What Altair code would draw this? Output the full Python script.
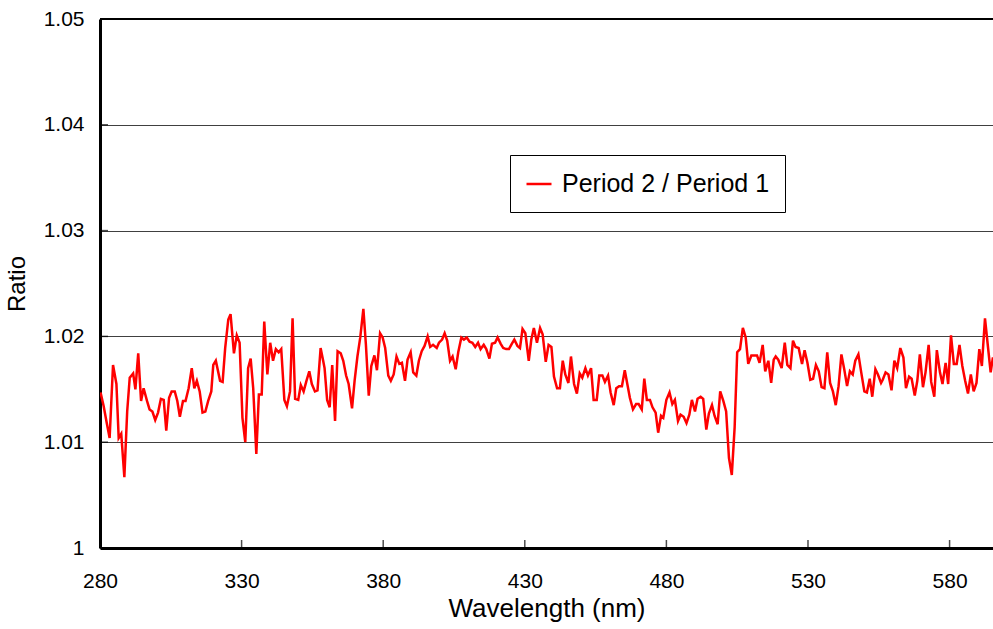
import altair as alt
import pandas as pd

wavelength = [
    280.2, 281.3, 282.4, 283.4, 284.6, 285.8, 286.6, 287.5, 288.6, 289.6, 290.5, 291.7, 292.5, 293.5, 294.5,
    295.4, 296.6, 297.5, 298.5, 299.5, 300.5, 301.5, 302.5, 303.4, 304.4, 305.3, 306.4, 307.3, 308.2, 309.3,
    310.2, 311.3, 312.4, 313.3, 314.2, 315.2, 316.2, 317.2, 318.2, 319.3,
    320.0, 320.9, 322.4, 323.3, 324.2, 325.3, 326.1, 327.3, 328.3, 329.3, 330.3, 331.3, 332.3, 333.2, 334.1,
    335.2, 336.1, 337.1, 338.0, 339.1, 340.1, 341.1, 342.1, 343.1, 344.0, 345.1, 346.0, 347.1, 348.0, 348.9,
    350.0, 350.9, 351.9, 352.9, 353.9, 354.8, 355.9, 356.8, 357.9, 358.8,
    359.3, 360.2, 361.1, 362.0, 363.0, 363.9, 365.0, 365.9, 366.9, 367.8, 369.0, 369.9, 370.9, 371.9, 373.0,
    373.9, 374.9, 375.8, 376.9, 377.8, 378.9, 379.8, 380.7, 381.8, 382.7, 383.7, 384.7, 385.7, 386.6, 387.7,
    388.6, 389.7, 390.6, 391.7, 392.6, 393.6, 394.6, 395.7, 396.6, 397.6,
    398.9, 399.7, 400.8, 401.7, 402.6, 403.6, 404.5, 405.6, 406.5, 407.6, 408.5, 409.5, 410.5, 411.5, 412.5,
    413.5, 414.4, 415.5, 416.4, 417.5, 418.4, 419.5, 420.4, 421.5, 422.4, 423.4, 424.4, 425.4, 426.3, 427.4,
    428.3, 429.2, 430.2, 431.4, 432.3, 433.2, 434.3, 435.4, 436.3, 437.4,
    438.4, 439.4, 440.3, 441.4, 442.4, 443.4, 444.3, 445.4, 446.3, 447.4, 448.4, 449.4, 450.3, 451.4, 452.3,
    453.4, 454.3, 455.4, 456.3, 457.4, 458.3, 459.4, 460.3, 461.4, 462.3, 463.3, 464.3, 465.3, 466.2, 467.1,
    468.2, 469.3, 470.2, 471.3, 472.2, 473.1, 474.2, 475.1, 476.2, 477.1, 478.1,
    478.9, 480.0, 481.1, 482.1, 483.0, 484.1, 485.0, 486.1, 487.1, 488.1, 489.0, 490.1, 491.0, 492.1, 493.0,
    494.1, 495.0, 496.1, 497.0, 498.1, 499.0, 500.1, 501.1, 502.1, 503.1, 504.1, 505.0, 506.0, 507.0, 508.0,
    508.9, 510.0, 510.9, 512.0, 512.9, 514.0, 514.9, 516.0, 517.0,
    517.9, 518.6, 519.5, 520.7, 521.8, 522.7, 523.8, 524.7, 525.6, 526.7, 527.9, 528.8, 529.8, 530.8, 531.8,
    532.8, 533.8, 534.8, 535.8, 536.8, 537.8, 538.8, 539.8, 540.8, 541.8, 542.8, 543.8, 544.8, 545.8, 546.7,
    547.8, 548.8, 549.9, 550.8, 551.8, 552.7, 553.8, 554.7, 555.8,
    556.4, 557.4, 558.4, 559.5, 560.5, 561.5, 562.6, 563.7, 564.6, 565.7, 566.6, 567.7, 568.6, 569.5, 570.6,
    571.5, 572.6, 573.5, 574.6, 575.5, 576.6, 577.5, 578.6, 579.5, 580.5, 581.5, 582.5, 583.5, 584.5, 585.5,
    586.5, 587.5, 588.5, 589.5, 590.5, 591.4, 592.5, 593.4, 594.5, 595.3, 596.3,
]

ratio = [
    1.0147, 1.0134, 1.0118, 1.0104, 1.0173, 1.0155, 1.0104, 1.0108, 1.0067, 1.0129, 1.0161, 1.0165, 1.0150, 1.0184, 1.0139,
    1.0151, 1.0139, 1.0131, 1.0129, 1.0121, 1.0128, 1.0141, 1.0140, 1.0111, 1.0142, 1.0148, 1.0148, 1.0139, 1.0124, 1.0139,
    1.0139, 1.0151, 1.0170, 1.0151, 1.0158, 1.0148, 1.0128, 1.0129, 1.0139, 1.0148,
    1.0173, 1.0177, 1.0158, 1.0157, 1.0189, 1.0216, 1.0221, 1.0184, 1.0201, 1.0194, 1.0123, 1.0100, 1.0170, 1.0179, 1.0151,
    1.0089, 1.0145, 1.0145, 1.0214, 1.0164, 1.0194, 1.0177, 1.0188, 1.0185, 1.0188, 1.0140, 1.0134, 1.0148, 1.0217, 1.0141,
    1.0140, 1.0154, 1.0148, 1.0158, 1.0167, 1.0155, 1.0148, 1.0149, 1.0189, 1.0177,
    1.0170, 1.0140, 1.0133, 1.0173, 1.0120, 1.0186, 1.0184, 1.0177, 1.0163, 1.0155, 1.0132, 1.0158, 1.0181, 1.0199, 1.0226,
    1.0192, 1.0144, 1.0172, 1.0182, 1.0168, 1.0203, 1.0199, 1.0189, 1.0163, 1.0158, 1.0164, 1.0181, 1.0174, 1.0175, 1.0158,
    1.0178, 1.0185, 1.0166, 1.0163, 1.0177, 1.0186, 1.0191, 1.0200, 1.0190, 1.0192,
    1.0189, 1.0194, 1.0197, 1.0203, 1.0196, 1.0177, 1.0181, 1.0169, 1.0185, 1.0199, 1.0197, 1.0199, 1.0195, 1.0194, 1.0190,
    1.0194, 1.0188, 1.0192, 1.0188, 1.0179, 1.0193, 1.0194, 1.0199, 1.0193, 1.0189, 1.0188, 1.0188, 1.0193, 1.0197, 1.0191,
    1.0189, 1.0207, 1.0203, 1.0177, 1.0197, 1.0208, 1.0194, 1.0208, 1.0202, 1.0176,
    1.0192, 1.0190, 1.0162, 1.0151, 1.0151, 1.0177, 1.0164, 1.0156, 1.0181, 1.0155, 1.0146, 1.0165, 1.0161, 1.0170, 1.0163,
    1.0170, 1.0140, 1.0140, 1.0163, 1.0163, 1.0157, 1.0163, 1.0147, 1.0135, 1.0151, 1.0153, 1.0153, 1.0168, 1.0155, 1.0142,
    1.0131, 1.0136, 1.0136, 1.0131, 1.0160, 1.0140, 1.0140, 1.0133, 1.0128, 1.0109, 1.0125,
    1.0123, 1.0140, 1.0147, 1.0136, 1.0140, 1.0120, 1.0126, 1.0124, 1.0118, 1.0126, 1.0140, 1.0129, 1.0141, 1.0143, 1.0141,
    1.0112, 1.0127, 1.0135, 1.0125, 1.0117, 1.0148, 1.0139, 1.0129, 1.0085, 1.0069, 1.0114, 1.0185, 1.0188, 1.0208, 1.0199,
    1.0174, 1.0182, 1.0182, 1.0182, 1.0175, 1.0192, 1.0167, 1.0177, 1.0156,
    1.0178, 1.0181, 1.0178, 1.0170, 1.0194, 1.0173, 1.0170, 1.0196, 1.0190, 1.0189, 1.0174, 1.0187, 1.0175, 1.0159, 1.0160,
    1.0173, 1.0167, 1.0152, 1.0151, 1.0185, 1.0156, 1.0148, 1.0135, 1.0153, 1.0183, 1.0169, 1.0153, 1.0167, 1.0164, 1.0177,
    1.0183, 1.0166, 1.0148, 1.0147, 1.0160, 1.0143, 1.0169, 1.0164, 1.0156,
    1.0159, 1.0166, 1.0164, 1.0149, 1.0177, 1.0170, 1.0189, 1.0180, 1.0151, 1.0162, 1.0160, 1.0144, 1.0158, 1.0183, 1.0152,
    1.0166, 1.0192, 1.0157, 1.0143, 1.0187, 1.0166, 1.0155, 1.0175, 1.0155, 1.0201, 1.0174, 1.0174, 1.0192, 1.0172, 1.0158,
    1.0146, 1.0164, 1.0148, 1.0156, 1.0188, 1.0172, 1.0217, 1.0194, 1.0166, 1.0180, 1.0172,
]

series_name = "Period 2 / Period 1"
x_ticks = [280, 330, 380, 430, 480, 530, 580]
y_ticks = [1.0, 1.01, 1.02, 1.03, 1.04, 1.05]

df = pd.DataFrame({"wavelength": wavelength, "ratio": ratio, "series": series_name})
xt = pd.DataFrame({"t": x_ticks})
yt = pd.DataFrame({"t": y_ticks})

FONT = "Liberation Sans"
W, H = 893, 529

xscale = alt.Scale(domain=[280, 595.33], nice=False, zero=False)
yscale = alt.Scale(domain=[1.0, 1.05], nice=False, zero=False)

line = alt.Chart(df).mark_line(strokeWidth=2.5, clip=True).encode(
    x=alt.X("wavelength:Q", scale=xscale,
            axis=alt.Axis(values=x_ticks, title="Wavelength (nm)", grid=False, ticks=False,
                          domainWidth=3, domainColor="black", labelPadding=22,
                          labelFontSize=21, titleFontSize=26, titlePadding=4,
                          labelFont=FONT, titleFont=FONT, labelColor="black", titleColor="black",
                          titleFontWeight="normal", labelFlush=False)),
    y=alt.Y("ratio:Q", scale=yscale,
            axis=alt.Axis(values=y_ticks, title="Ratio", grid=True, gridColor="#404040", gridWidth=1,
                          ticks=False, domainWidth=3, domainColor="black", labelPadding=16,
                          labelExpr="format(datum.value, '.2~f')",
                          labelFontSize=21, titleFontSize=24, titlePadding=14,
                          labelFont=FONT, titleFont=FONT, labelColor="black", titleColor="black",
                          titleFontWeight="normal", labelFlush=False)),
    color=alt.Color("series:N",
                    scale=alt.Scale(domain=[series_name], range=["#ff0000"]),
                    legend=alt.Legend(title=None, orient="none", legendX=410, legendY=136,
                                      strokeColor="black", fillColor="white",
                                      padding=15, symbolType="stroke", symbolSize=625,
                                      symbolStrokeWidth=2.5, labelFontSize=25, labelFont=FONT,
                                      labelColor="black", labelOffset=9, labelLimit=400)),
)

xtick_marks = alt.Chart(xt).mark_tick(color="black", thickness=1.5, size=8, orient="vertical").encode(
    x=alt.X("t:Q", scale=xscale), y=alt.value(H - 4))

ytick_marks = alt.Chart(yt).mark_tick(color="black", thickness=1.5, size=8, orient="horizontal").encode(
    y=alt.Y("t:Q", scale=yscale), x=alt.value(4))

top_line = alt.Chart(xt).mark_rule(color="black", strokeWidth=2).encode(
    x=alt.value(0), x2=alt.value(W), y=alt.value(0))

chart = alt.layer(top_line, xtick_marks, ytick_marks, line).properties(
    width=W, height=H,
    autosize=alt.AutoSizeParams(type="none"),
    padding={"left": 100, "top": 19, "right": 0, "bottom": 81},
).configure_view(stroke=None).configure_legend(strokeWidth=2).configure(background="white")

chart.save("out.html", embed_options={"renderer": "svg", "actions": False})
